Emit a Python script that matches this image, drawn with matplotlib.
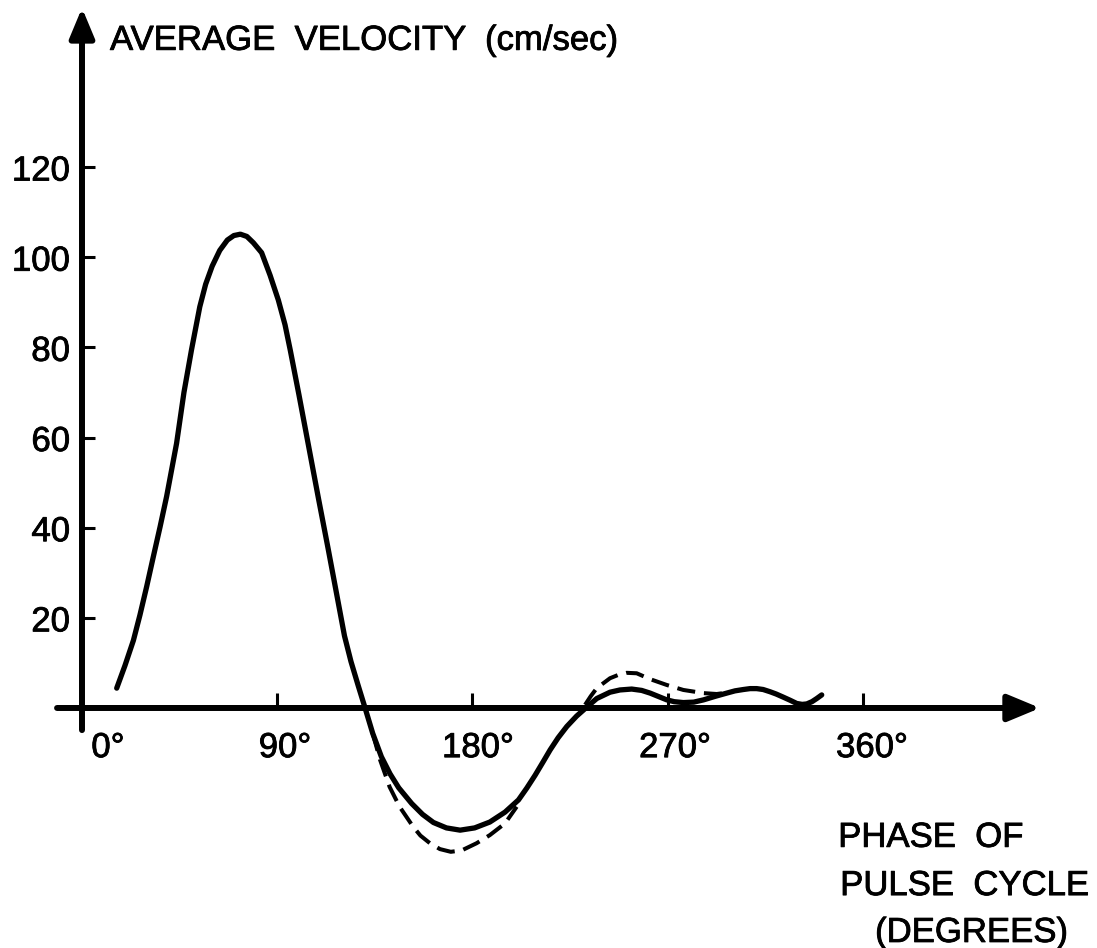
import matplotlib
matplotlib.use("Agg")
import matplotlib.pyplot as plt
import matplotlib.patheffects as pe

# phase (deg) vs average velocity (cm/sec), solid curve
phase = [16, 19.8, 23.7, 26.7, 29.8, 32.9, 36, 39, 41.3, 43.6, 47, 50.5, 54.3, 57,
         60, 63.5, 67, 70, 73, 76, 79, 82.8, 86.7, 90.5, 93.6, 96, 100, 104.5, 109,
         113.4, 117.5, 121, 124, 127.3, 130.5, 134, 138, 142, 146, 152, 157, 162,
         168, 174.3, 181, 188, 195, 201.2, 205, 208.9, 212.5, 215.8, 219.5, 223.5,
         228, 232.7, 237.3, 243.4, 248, 253.4, 258, 261.9, 266, 269.6, 273, 277.2,
         282, 286.5, 292, 297.2, 301, 304.9, 308, 311, 314, 317.2, 320, 323.3,
         326.5, 329.5, 332, 334.1, 336.5, 338.7, 341]
velocity = [4.4, 9.4, 15.0, 20.6, 26.9, 33.6, 40.2, 46.9, 52.8, 58.7, 70, 79.5, 89,
            94, 98, 101.5, 103.8, 104.8, 105.1, 104.6, 103.2, 101, 96, 90.5, 85, 79.4,
            69.5, 58, 46.5, 35.5, 25, 16, 10.3, 5, 0, -5.6, -10.8, -14.6, -17.7,
            -21.2, -23.6, -25.4, -26.6, -27.1, -26.6, -25.3, -23.1, -20.4, -17.8,
            -14.9, -12, -9.3, -6.6, -4.1, -1.8, 0.2, 2.1, 3.5, 4.0, 4.2, 3.9, 3.3,
            2.5, 1.8, 1.4, 1.2, 1.3, 1.8, 2.6, 3.3, 3.8, 4.1, 4.3, 4.3, 4.1, 3.6,
            3.1, 2.4, 1.7, 1.0, 0.8, 0.9, 1.4, 2.1, 2.9]

# dashed curve where it departs from the solid one
dash_trough_phase = [134, 137.4, 141.8, 146.4, 152.6, 156, 160.4, 165, 170, 175,
                     181.9, 188, 195, 200.4]
dash_trough_vel = [-5.6, -11.5, -17.5, -21.9, -26.3, -28.3, -30, -31.3, -31.9,
                   -31.6, -30, -28.2, -25.6, -21.9]
dash_bump_phase = [231.9, 234.5, 237.3, 243.4, 247, 251.1, 255.7, 261.9, 269.6,
                   277.2, 286.5, 292.6, 297.2]
dash_bump_vel = [0.7, 2.6, 4.4, 6.6, 7.3, 7.8, 7.7, 6.4, 5.1, 4.0, 3.3, 3.1, 3.4]

x_ticks = [90, 180, 270, 360]
x_labels = ["0°", "90°", "180°", "270°", "360°"]
x_label_pos = [12, 93.6, 182.6, 273.4, 364.2]
y_ticks = [20, 40, 60, 80, 100, 120]

FONT = ["Liberation Sans", "DejaVu Sans"]
FS = 25
bold = [pe.withStroke(linewidth=0.6, foreground="black")]

fig = plt.figure(figsize=(10.97, 9.48), dpi=100)
ax = fig.add_axes([0, 0, 1, 1])
ax.set_xlim(-37.8, 467.9)
ax.set_ylim(-53.24, 157.05)
ax.axis("off")


def label(x, y, s, **kw):
    ax.text(x, y, s, va="baseline", fontsize=FS, family=FONT,
            path_effects=bold, **kw)


# axes drawn by hand, with arrow heads
ax.annotate("", xy=(441.7, 0), xytext=(-11.5, 0),
            arrowprops=dict(arrowstyle="-|>,head_length=0.65,head_width=0.27",
                            mutation_scale=30, lw=4.3, color="black",
                            shrinkA=0, shrinkB=0))
ax.annotate("", xy=(0, 155.3), xytext=(0, -4.9),
            arrowprops=dict(arrowstyle="-|>,head_length=0.6,head_width=0.25",
                            mutation_scale=30, lw=4.3, color="black",
                            shrinkA=0, shrinkB=0))

for t in x_ticks:
    ax.plot([t, t], [0, 3.3], color="black", lw=2.2, solid_capstyle="butt")
for t in y_ticks:
    ax.plot([0, 6], [t, t], color="black", lw=2.2, solid_capstyle="butt")
    label(-5.5, t - 3.0, str(t), ha="right")

for pos, lab in zip(x_label_pos, x_labels):
    label(pos, -10.9, lab, ha="center")

ax.plot(phase, velocity, color="black", lw=3.8, solid_capstyle="round",
        solid_joinstyle="round")
ax.plot(dash_trough_phase, dash_trough_vel, color="black", lw=2.9,
        dashes=(4.5, 2.2))
ax.plot(dash_bump_phase, dash_bump_vel, color="black", lw=2.9, dashes=(4.5, 2.2))

label(12.9, 146, "AVERAGE  VELOCITY  (cm/sec)", ha="left")
label(348.6, -30.8, "PHASE  OF", ha="left")
label(349.5, -41.5, "PULSE  CYCLE", ha="left")
label(365.6, -51.9, "(DEGREES)", ha="left")

fig.savefig("out.png", dpi=100, facecolor="white")
